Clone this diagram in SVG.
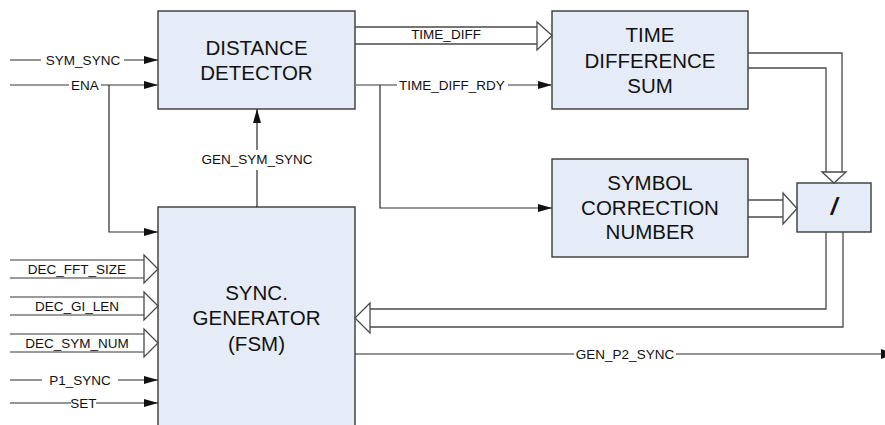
<svg xmlns="http://www.w3.org/2000/svg" width="885" height="425" viewBox="0 0 885 425">
  <style>
    .box { fill: #e6ecf7; stroke: #3a3a3a; stroke-width: 1.4; }
    .title { font-family: "Liberation Sans", Arial, sans-serif; font-size: 20.5px; fill: #111; text-anchor: middle; }
    .sig { font-family: "Liberation Sans", Arial, sans-serif; font-size: 13.5px; fill: #111; text-anchor: middle; }
    .w { fill: none; stroke: #2a2a2a; stroke-width: 1.2; }
    .g { fill: none; stroke: #7a7a7a; stroke-width: 1.6; }
    .bus { fill: none; stroke: #4a4a4a; stroke-width: 1.3; }
    .busg { fill: none; stroke: #7a7a7a; stroke-width: 1.6; }
    .head { fill: #fff; stroke: #4a4a4a; stroke-width: 1.3; stroke-linejoin: miter; }
    .tip { fill: #111; }
  </style>
  <defs>
    <marker id="arr" viewBox="0 0 14 8" refX="14" refY="4" markerWidth="14" markerHeight="8" markerUnits="userSpaceOnUse" orient="auto">
      <path d="M0,0 L14,4 L0,8 Z" fill="#111"/>
    </marker>
  </defs>

  <!-- blocks -->
  <g id="distance-detector">
    <rect class="box" x="158" y="11" width="197" height="98"/>
    <text class="title" x="256.5" y="55">DISTANCE</text>
    <text class="title" x="256.5" y="80">DETECTOR</text>
  </g>
  <g id="time-difference-sum">
    <rect class="box" x="552" y="11" width="196" height="98"/>
    <text class="title" x="650" y="42">TIME</text>
    <text class="title" x="650" y="68">DIFFERENCE</text>
    <text class="title" x="650" y="93">SUM</text>
  </g>
  <g id="symbol-correction-number">
    <rect class="box" x="552" y="159" width="196" height="98"/>
    <text class="title" x="650" y="190">SYMBOL</text>
    <text class="title" x="650" y="215">CORRECTION</text>
    <text class="title" x="650" y="239">NUMBER</text>
  </g>
  <g id="divider">
    <rect class="box" x="797" y="183" width="74" height="49"/>
    <text class="title" x="834" y="215" style="font-weight:bold;font-style:italic;font-size:24px">/</text>
  </g>
  <g id="sync-generator">
    <rect class="box" x="158" y="207" width="197" height="230"/>
    <text class="title" x="256.5" y="300">SYNC.</text>
    <text class="title" x="256.5" y="325">GENERATOR</text>
    <text class="title" x="256.5" y="351">(FSM)</text>
  </g>

  <!-- connectors -->
  <g id="connectors">
    <!-- SYM_SYNC -->
    <path class="w" d="M10,60 H41 M124,60 H158" marker-end="url(#arr)"/>
    <text class="sig" x="83" y="65">SYM_SYNC</text>
    <!-- ENA, with branch to the sync generator -->
    <path class="g" d="M10,85 H69 M101,85 H158" marker-end="url(#arr)"/>
    <path class="w" d="M109,85 V232 H158" marker-end="url(#arr)"/>
    <text class="sig" x="85" y="90">ENA</text>
    <!-- GEN_SYM_SYNC -->
    <path class="w" d="M257,207 V170 M257,150 V109" marker-end="url(#arr)"/>
    <text class="sig" x="257" y="164">GEN_SYM_SYNC</text>

    <!-- TIME_DIFF bus -->
    <path class="bus" d="M355,27 H537 M355,44 H537"/>
    <polygon class="head" points="537,22 552,35.5 537,50"/>
    <text class="sig" x="446" y="39">TIME_DIFF</text>

    <!-- TIME_DIFF_RDY and branch -->
    <path class="g" d="M355,85 H397 M508,85 H552" marker-end="url(#arr)"/>
    <path class="w" d="M380,85 V208 H552" marker-end="url(#arr)"/>
    <text class="sig" x="452" y="90">TIME_DIFF_RDY</text>

    <!-- sum bus into divider -->
    <path class="bus" d="M748,53 H842 V172 M748,68 H826 V172"/>
    <polygon class="head" points="822,172 834,183 846,172"/>

    <!-- correction bus into divider -->
    <path class="bus" d="M748,200 H783 M748,217 H783"/>
    <polygon class="head" points="783,193 797,208.5 783,224"/>

    <!-- divider result back to the sync generator -->
    <path class="bus" d="M826,232 V309 H370 M843,232 V327 H370"/>
    <polygon class="head" points="370,303 355,318 370,333"/>

    <!-- GEN_P2_SYNC output -->
    <path class="w" d="M355,354 H574 M676,354 H884"/>
    <polygon class="tip" points="881,349 895,354 881,359"/>
    <text class="sig" x="625" y="359">GEN_P2_SYNC</text>

    <!-- DEC input buses -->
    <path class="busg" d="M10,260 H144 M10,278 H144"/>
    <polygon class="head" points="144,255 158,269 144,283"/>
    <text class="sig" x="77" y="274">DEC_FFT_SIZE</text>

    <path class="busg" d="M10,297 H144 M10,315 H144"/>
    <polygon class="head" points="144,292 158,306 144,320"/>
    <text class="sig" x="77" y="311">DEC_GI_LEN</text>

    <path class="busg" d="M10,334 H144 M10,352 H144"/>
    <polygon class="head" points="144,329 158,343 144,357"/>
    <text class="sig" x="77" y="348">DEC_SYM_NUM</text>

    <!-- P1_SYNC and SET -->
    <path class="w" d="M10,380 H42 M118,380 H158" marker-end="url(#arr)"/>
    <text class="sig" x="80" y="385">P1_SYNC</text>
    <path class="w" d="M10,403 H71 M96,403 H158" marker-end="url(#arr)"/>
    <text class="sig" x="83.5" y="408">SET</text>
  </g>
</svg>
